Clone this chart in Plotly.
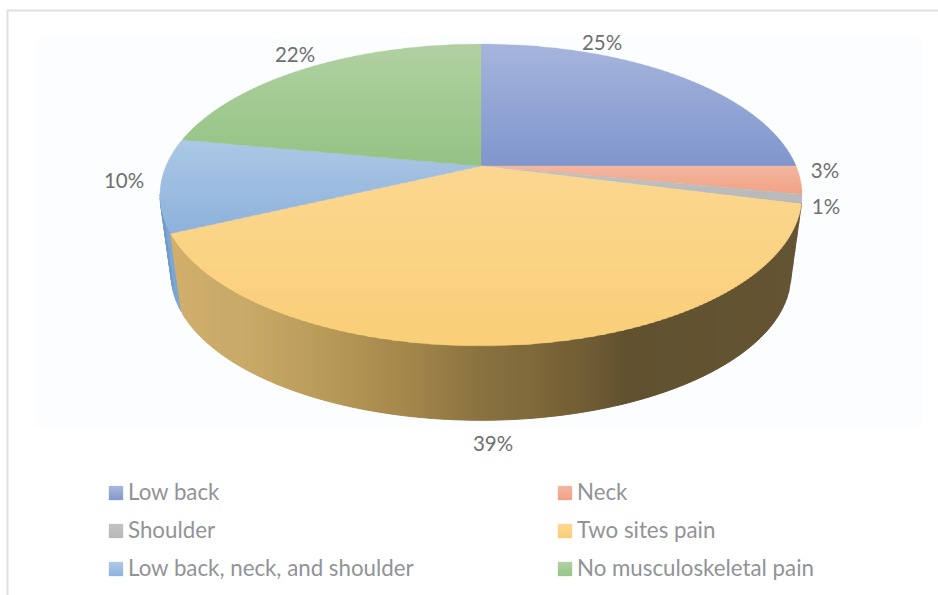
import math
import numpy as np
import plotly.graph_objects as go

# Share of respondents per pain site, in drawing order (clockwise from 12 o'clock)
categories = ["Low back", "Neck", "Shoulder", "Two sites pain",
              "Low back, neck, and shoulder", "No musculoskeletal pain"]
shares = [25, 3, 1, 39, 10, 22]

# Slice face colours: start and end of each vertical gradient
face_top = ["#a6b5dd", "#f3b7a0", "#c2c2c2", "#fbd790", "#acc8e6", "#b1d1a2"]
face_bottom = ["#8096cc", "#f1a082", "#b8b8b8", "#f9cf78", "#8eb2dc", "#94c384"]

# Wall colour stops for the pie's rim, keyed by horizontal pixel position
wall_x = [165, 250, 330, 420, 480, 530, 600, 625, 810]
wall_colors = ["#d2b06d", "#c8a968", "#b89a58", "#a0844a", "#8a7240",
               "#806a3b", "#6c5a34", "#615130", "#655434"]
blue_wall = ("#7fa6d2", "#6f9bc9")

# Perspective disc parameters for the top face and for the base
CX = 481.0
TOP = dict(cy=166.0, rx=315.0, ry=145.4)
BASE = dict(cy=247.0, rx=304.0, ry=140.0)
K = 0.192


def project(frac, disc, radius=1.0):
    """Map a pie fraction (0 at 12 o'clock, clockwise) to page pixels."""
    a = 2 * math.pi * frac
    x, y = radius * math.sin(a), -radius * math.cos(a)
    s = 1 / (1 - K * y)
    return CX + disc["rx"] * x * s, disc["cy"] + disc["ry"] * y * s


def clip(poly, y0, y1):
    """Keep the part of a convex polygon lying between two horizontal lines."""
    def cut(points, keep, limit):
        out = []
        for i, p in enumerate(points):
            q = points[(i + 1) % len(points)]
            if keep(p):
                out.append(p)
            if keep(p) != keep(q):
                t = (limit - p[1]) / (q[1] - p[1])
                out.append((p[0] + t * (q[0] - p[0]), limit))
        return out
    res = cut(poly, lambda p: p[1] >= y0, y0)
    return cut(res, lambda p: p[1] <= y1, y1) if res else res


def hex_rgb(c):
    return tuple(int(c[i:i + 2], 16) for i in (1, 3, 5))


def blend(c0, c1, t):
    a, b = hex_rgb(c0), hex_rgb(c1)
    return "rgb(%d,%d,%d)" % tuple(round(a[i] + (b[i] - a[i]) * t) for i in range(3))


def patch(poly, color, width=0.8):
    return go.Scatter(x=[p[0] for p in poly] + [poly[0][0]],
                      y=[p[1] for p in poly] + [poly[0][1]],
                      mode="lines", fill="toself", fillcolor=color,
                      line=dict(color=color, width=width),
                      hoverinfo="skip", showlegend=False)


def graded(poly, c0, c1, step=2.0):
    """Split a polygon into thin horizontal bands following a vertical gradient."""
    ys = [p[1] for p in poly]
    lo, hi = min(ys), max(ys)
    traces = []
    y = lo
    while y < hi:
        part = clip(poly, y, min(y + step + 0.5, hi))
        if len(part) >= 3:
            traces.append(patch(part, blend(c0, c1, (y - lo) / max(hi - lo, 1)), width=0.3))
        y += step
    return traces


def wall_color(x):
    for x0, c0, x1, c1 in zip(wall_x, wall_colors, wall_x[1:], wall_colors[1:]):
        if x <= x1:
            return blend(c0, c1, max(0, (x - x0) / (x1 - x0)))
    return wall_colors[-1]


fig = go.Figure()

# Cumulative slice boundaries
total = sum(shares)
edges = [0.0]
for v in shares:
    edges.append(edges[-1] + v / total)

# Rim of the slice behind the big one, ending at the left silhouette
f0, f1 = edges[4], edges[4] + 0.04
n = 10
for i in range(n):
    a, b = f0 + (f1 - f0) * i / n, f0 + (f1 - f0) * (i + 1) / n
    fig.add_trace(patch([project(a, TOP), project(b, TOP), project(b, BASE), project(a, BASE)],
                        blend(blue_wall[0], blue_wall[1], i / n)))

# Rim of the big slice: vertical strips between the top edge and the lower outline
fr = np.linspace(edges[3], edges[4], 300)
top_arc = sorted(project(f, TOP) for f in fr)
base_arc = sorted(project(f, BASE) for f in fr)
top_xs, top_ys = zip(*top_arc)
low_xs, low_ys = zip(*([top_arc[0]] + base_arc + [top_arc[-1]]))
x = top_xs[0]
STRIP = 2.0
while x < top_xs[-1]:
    x1 = min(x + STRIP, top_xs[-1])
    quad = [(x, np.interp(x, top_xs, top_ys) - 1.5), (x1, np.interp(x1, top_xs, top_ys) - 1.5),
            (x1, np.interp(x1, low_xs, low_ys)), (x, np.interp(x, low_xs, low_ys))]
    fig.add_trace(patch(quad, wall_color((x + x1) / 2), width=1.0))
    x += STRIP

# Top faces
for i in range(len(shares)):
    f0, f1 = edges[i], edges[i + 1]
    steps = max(4, int((f1 - f0) * 240))
    rim = [project(f0 + (f1 - f0) * j / steps, TOP) for j in range(steps + 1)]
    fig.add_traces(graded([project(0, TOP, 0.0)] + rim, face_top[i], face_bottom[i]))

# Percentage labels beside their slices
label_x = [602, 825, 826, 493, 124, 295]
label_y = [45, 173, 209, 446, 183, 57]
fig.add_trace(go.Scatter(x=label_x, y=label_y, mode="text",
                         text=[f"{v}%" for v in shares], textposition="middle center",
                         textfont=dict(family="Lato", size=20.5, color="#707070"),
                         hoverinfo="skip", showlegend=False))

# Two-column legend, filled row by row
legend_x = [109, 558, 109, 558, 109, 558]
legend_y = [493, 493, 531, 531, 569, 569]
SWATCH = 14
for i, name in enumerate(categories):
    x, y = legend_x[i], legend_y[i]
    box = [(x, y - SWATCH / 2), (x + SWATCH, y - SWATCH / 2),
           (x + SWATCH, y + SWATCH / 2), (x, y + SWATCH / 2)]
    fig.add_traces(graded(box, face_top[i], face_bottom[i]))
fig.add_trace(go.Scatter(x=[x + SWATCH + 5 for x in legend_x], y=[y + 1 for y in legend_y],
                         mode="text", text=categories, textposition="middle right",
                         textfont=dict(family="Lato", size=22.3, color="#919396"),
                         hoverinfo="skip", showlegend=False))

fig.update_layout(
    width=938, height=595, margin=dict(l=0, r=0, t=0, b=0),
    paper_bgcolor="white", plot_bgcolor="white", showlegend=False,
    xaxis=dict(range=[0, 938], visible=False, fixedrange=True),
    yaxis=dict(range=[595, 0], visible=False, fixedrange=True),
    shapes=[
        dict(type="rect", layer="below", x0=36, x1=922, y0=38, y1=427,
             fillcolor="#fcfdfe", line_width=0),
        dict(type="line", x0=7.5, x1=7.5, y0=10, y1=595, line=dict(color="#e0e0e0", width=2)),
        dict(type="line", x0=7, x1=938, y0=10.5, y1=10.5, line=dict(color="#e0e0e0", width=2)),
    ],
)

fig.write_html("out.html", config=dict(displayModeBar=False))
